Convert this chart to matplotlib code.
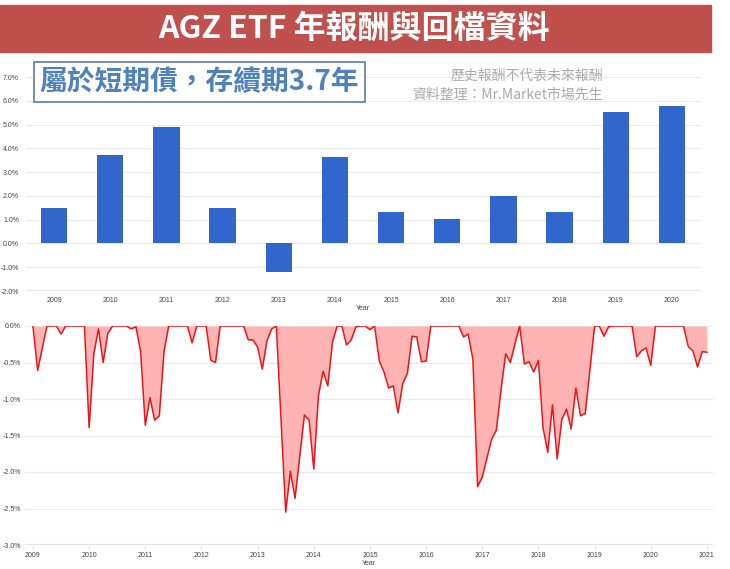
import matplotlib
matplotlib.use("Agg")
import matplotlib.pyplot as plt
from matplotlib.patches import Rectangle
import numpy as np

# annual returns (%)
years = ["2009", "2010", "2011", "2012", "2013", "2014",
         "2015", "2016", "2017", "2018", "2019", "2020"]
annual_return = [1.48, 3.71, 4.89, 1.48, -1.22, 3.63,
                 1.31, 1.01, 1.98, 1.31, 5.53, 5.78]

# monthly drawdown (%), Jan 2009 .. Jan 2021
dd_2009 = [0, -0.61, -0.30, 0, 0, 0, -0.11, 0, 0, 0, 0, 0]
dd_2010 = [-1.39, -0.38, -0.04, -0.50, -0.10, 0, 0, 0, 0, -0.04, -0.01, -0.35]
dd_2011 = [-1.36, -0.98, -1.29, -1.23, -0.35, 0, 0, 0, 0, 0, -0.23, 0]
dd_2012 = [0, 0, -0.47, -0.50, 0, 0, 0, 0, 0, 0, -0.19, -0.19]
dd_2013 = [-0.29, -0.59, -0.20, -0.04, 0, -1.27, -2.55, -1.99, -2.36, -1.79, -1.22, -1.29]
dd_2014 = [-1.96, -0.95, -0.62, -0.82, -0.22, 0, 0, -0.26, -0.19, -0.01, 0, 0]
dd_2015 = [-0.05, 0, -0.48, -0.63, -0.85, -0.82, -1.19, -0.79, -0.65, -0.14, -0.15, -0.49]
dd_2016 = [-0.48, 0, 0, 0, 0, 0, 0, 0, -0.15, -0.11, -0.46, -2.20]
dd_2017 = [-2.07, -1.81, -1.55, -1.43, -0.88, -0.38, -0.50, -0.24, 0, -0.52, -0.49, -0.63]
dd_2018 = [-0.47, -1.40, -1.73, -1.08, -1.82, -1.28, -1.14, -1.41, -0.85, -1.23, -1.20, -0.60]
dd_2019 = [0, 0, -0.14, -0.01, 0, 0, 0, 0, 0, -0.42, -0.34, -0.30]
dd_2020 = [-0.54, 0, 0, 0, 0, 0, 0, 0, -0.28, -0.34, -0.56, -0.35]
dd_2021 = [-0.36]
drawdown = (dd_2009 + dd_2010 + dd_2011 + dd_2012 + dd_2013 + dd_2014 + dd_2015
            + dd_2016 + dd_2017 + dd_2018 + dd_2019 + dd_2020 + dd_2021)
dd_year_ticks = [str(y) for y in range(2009, 2022)]

title = "AGZ ETF 年報酬與回檔資料"
note = "屬於短期債，存續期3.7年"
source1 = "歷史報酬不代表未來報酬"
source2 = "資料整理：Mr.Market市場先生"

CJK = ["Noto Sans CJK TC", "DejaVu Sans"]
plt.rcParams["font.family"] = ["Liberation Sans", "DejaVu Sans"]

W, H = 730, 569
fig = plt.figure(figsize=(W / 100, H / 100), dpi=100)
fig.patch.set_facecolor("white")

def fx(px):
    return px / W

def fy(py):
    return 1 - py / H

grid_c = "#ebebeb"
tick_c = "#444444"

# title bar
fig.patches.append(Rectangle((0, fy(52)), fx(711), (52 - 5) / H,
                             transform=fig.transFigure, color="#c0504d", zorder=0))
fig.text(fx(354), fy(29), title, color="white", fontsize=23, fontweight="bold",
         family=CJK, ha="center", va="center")

# top chart: annual returns
ax1 = fig.add_axes([fx(26), fy(291), fx(700) - fx(26), (291 - 77) / H])
x = np.arange(len(years))
ax1.bar(x, annual_return, width=0.47, color="#3366cc", zorder=3)
ax1.set_xlim(-0.5, len(years) - 0.5)
ax1.set_ylim(-2, 7)
ax1.set_yticks(np.arange(-2, 8, 1))
ax1.set_yticklabels([f"{v:.1f}%" for v in np.arange(-2, 8, 1)])
ax1.set_xticks(x)
ax1.set_xticklabels(years)
ax1.set_xlabel("Year", fontsize=5, color=tick_c, labelpad=1)
ax1.grid(axis="y", color=grid_c, linewidth=0.9, zorder=0)
ax1.axhline(-2, color="#e2e2ee", linewidth=1.5, zorder=1)
for s in ax1.spines.values():
    s.set_visible(False)
ax1.tick_params(axis="both", length=0, labelsize=5, colors=tick_c)
ax1.tick_params(axis="y", pad=5)
ax1.tick_params(axis="x", pad=4)

# bottom chart: drawdown
ax2 = fig.add_axes([fx(25), fy(545), fx(713) - fx(25), (545 - 326) / H])
m = np.arange(len(drawdown))
ax2.fill_between(m, drawdown, 0, color="#ffb3b3", linewidth=0, zorder=2)
ax2.plot(m, drawdown, color="#e8161c", linewidth=1.1, zorder=3)
ax2.set_xlim(-1.7, 145.3)
ax2.set_ylim(-3, 0)
yt = np.arange(-3, 0.01, 0.5)
ax2.set_yticks(yt)
ax2.set_yticklabels([f"{v:.1f}%" for v in yt])
ax2.set_xticks(np.arange(0, len(drawdown), 12))
ax2.set_xticklabels(dd_year_ticks)
ax2.set_xlabel("Year", fontsize=5, color=tick_c, labelpad=1)
ax2.grid(axis="y", color=grid_c, linewidth=0.9, zorder=0)
ax2.axhline(-3, color="#e2e2ee", linewidth=1.5, zorder=1)
for s in ax2.spines.values():
    s.set_visible(False)
ax2.tick_params(axis="y", length=0, labelsize=5, colors=tick_c, pad=3)
ax2.tick_params(axis="x", length=3, width=0.6, color="#dddddd", labelsize=5,
                colors=tick_c, pad=2)

# annotation box
fig.text(fx(199.5), fy(82), note, color="#4f81bd", fontsize=20, fontweight="bold",
         family=CJK, ha="center", va="center",
         bbox=dict(boxstyle="square,pad=0.22", facecolor="white",
                   edgecolor="#5a7ca8", linewidth=1.2))

# source text
fig.text(fx(603), fy(76), source1, color="#aaaaaa", fontsize=10, family=CJK,
         ha="right", va="center")
fig.text(fx(603), fy(95), source2, color="#aaaaaa", fontsize=10, family=CJK,
         ha="right", va="center")

fig.savefig("out.png", dpi=100, facecolor="white")
